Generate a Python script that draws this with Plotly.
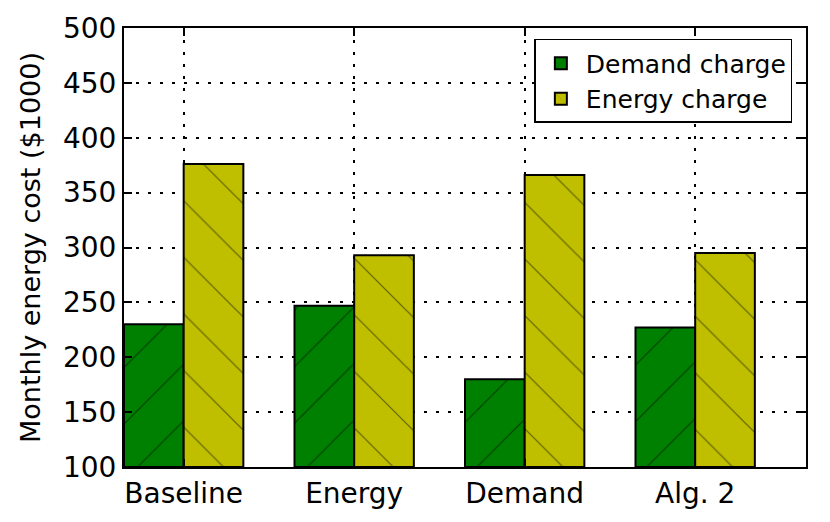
import plotly.graph_objects as go

categories = ["Baseline", "Energy", "Demand", "Alg. 2"]
demand_charge = [230, 247, 180, 227]
energy_charge = [376, 293, 366, 295]
y_ticks = [100, 150, 200, 250, 300, 350, 400, 450, 500]

width = 0.35
idx = list(range(len(categories)))

fig = go.Figure()
fig.add_trace(go.Bar(
    x=[i + width / 2 for i in idx], y=[v - 100 for v in demand_charge], base=100,
    width=width, name="Demand charge",
    marker=dict(color="#008000", line=dict(color="black", width=2),
                pattern=dict(shape="/", size=40, solidity=0.03, fgcolor="black", fgopacity=0.5)),
))
fig.add_trace(go.Bar(
    x=[i + 1.5 * width for i in idx], y=[v - 100 for v in energy_charge], base=100,
    width=width, name="Energy charge",
    marker=dict(color="#bfbf00", line=dict(color="black", width=2),
                pattern=dict(shape="\\", size=40, solidity=0.03, fgcolor="black", fgopacity=0.5)),
))

fig.update_layout(
    width=830, height=522,
    margin=dict(l=124, r=24, t=27, b=53),
    paper_bgcolor="white", plot_bgcolor="white",
    font=dict(family="DejaVu Sans", color="black", size=24),
    barmode="overlay",
    showlegend=True,
    legend=dict(x=0.98, y=0.975, xanchor="right", yanchor="top",
                bgcolor="white", bordercolor="black", borderwidth=1.5,
                font=dict(size=25), tracegroupgap=2, itemwidth=40),
    xaxis=dict(range=[0, 4], tickvals=[i + width for i in idx], ticktext=categories,
               showgrid=True, gridcolor="black", griddash="3px,9px", gridwidth=1.5,
               ticks="inside", ticklen=8, tickwidth=1.5, tickcolor="black",
               showline=True, linecolor="black", linewidth=2, mirror="allticks",
               tickfont=dict(size=28), zeroline=False),
    yaxis=dict(range=[100, 500], tickvals=y_ticks,
               showgrid=True, gridcolor="black", griddash="3px,9px", gridwidth=1.5,
               ticks="inside", ticklen=8, tickwidth=1.5, tickcolor="black",
               showline=True, linecolor="black", linewidth=2, mirror="allticks",
               tickfont=dict(size=28), zeroline=False,
               title=dict(text="Monthly energy cost ($1000)", font=dict(size=27), standoff=14)),
)

fig.write_html("out.html", config={"displayModeBar": False},
               post_script="document.body.style.margin='0';")
